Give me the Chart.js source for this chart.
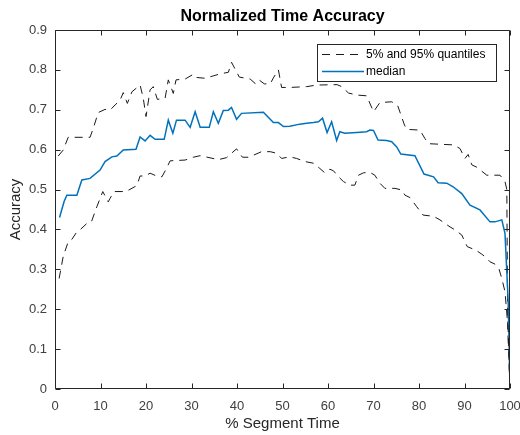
<!DOCTYPE html>
<html>
<head>
<meta charset="utf-8">
<script src="https://cdn.jsdelivr.net/npm/chart.js@4.4.1/dist/chart.umd.min.js"></script>
<style>
  body { margin: 0; background: #fff; }
  canvas { display: block; }
</style>
</head>
<body>
<canvas id="myChart" width="520" height="435"></canvas>
<script>
"use strict";

// chart data
const medianX = [1, 2, 2.6, 4.8, 5.9, 7.7, 9.9, 11, 12.5, 13.6, 15, 17.8, 18.7, 19.8, 20.9, 22, 24, 24.9, 25.9, 26.7, 28.6, 29.7, 30.8, 31.9, 33.9, 34.8, 35.9, 37, 38.1, 38.8, 39.9, 41, 45.8, 48, 49.1, 50.2, 51.6, 53.8, 55.3, 56.8, 57.9, 58.8, 59.8, 60.8, 61.9, 62.6, 63.7, 66.3, 68.5, 69.2, 70, 71, 72.9, 74, 75.1, 76, 79.1, 81.1, 83.2, 84.2, 86.1, 87.5, 89.4, 91.2, 93.4, 95.6, 96.7, 98.2, 98.9, 99.6, 100];
const medianY = [0.43, 0.47, 0.486, 0.486, 0.524, 0.528, 0.549, 0.57, 0.582, 0.584, 0.599, 0.601, 0.632, 0.622, 0.636, 0.626, 0.626, 0.674, 0.641, 0.674, 0.674, 0.656, 0.695, 0.656, 0.656, 0.695, 0.666, 0.698, 0.699, 0.706, 0.676, 0.691, 0.694, 0.668, 0.668, 0.658, 0.659, 0.664, 0.666, 0.668, 0.670, 0.679, 0.643, 0.670, 0.623, 0.645, 0.641, 0.643, 0.645, 0.649, 0.648, 0.624, 0.623, 0.62, 0.607, 0.589, 0.585, 0.539, 0.532, 0.517, 0.516, 0.507, 0.49, 0.461, 0.449, 0.419, 0.419, 0.424, 0.39, 0.22, 0];

const upperX = [0.7, 1.8, 2.9, 7.7, 8.4, 9.5, 11, 12.1, 13.2, 14.3, 15, 15.9, 16.9, 18.7, 19.4, 20, 20.9, 21.6, 22.5, 24.2, 24.9, 26, 26.6, 28.6, 30.4, 31.1, 33, 34.8, 36.3, 38.1, 38.8, 40.5, 42.9, 44, 44.7, 46, 47.3, 48.1, 49.1, 49.8, 51.6, 55.3, 57.5, 62, 63, 64.5, 66.3, 68.5, 70, 71.4, 74, 75.3, 76.8, 77.3, 80.2, 81.3, 82.1, 87.5, 89, 90.1, 90.8, 91.6, 92.7, 94.9, 96.3, 97.8, 98.9, 99.3, 99.5, 100];
const upperY = [0.584, 0.599, 0.631, 0.631, 0.653, 0.693, 0.701, 0.699, 0.712, 0.724, 0.743, 0.716, 0.745, 0.762, 0.729, 0.683, 0.75, 0.758, 0.726, 0.729, 0.775, 0.741, 0.775, 0.777, 0.789, 0.781, 0.779, 0.785, 0.79, 0.794, 0.819, 0.782, 0.777, 0.766, 0.776, 0.765, 0.765, 0.782, 0.8, 0.756, 0.756, 0.758, 0.762, 0.763, 0.758, 0.742, 0.737, 0.735, 0.695, 0.718, 0.72, 0.711, 0.662, 0.651, 0.649, 0.628, 0.615, 0.612, 0.603, 0.578, 0.588, 0.562, 0.556, 0.536, 0.536, 0.536, 0.52, 0.5, 0.15, 0];

const lowerX = [0.9, 1.8, 2.9, 3.7, 4.8, 5.5, 7, 8, 9.2, 10.5, 11.7, 12.1, 13, 15.6, 18, 18.7, 19.8, 20.9, 22.3, 23.5, 24.5, 25.3, 28.6, 30.4, 31.9, 35.9, 37.7, 39.9, 41.2, 42.5, 43.6, 45.4, 47.3, 48.7, 49.8, 51.6, 53.1, 55, 56.8, 58.2, 59.3, 60.4, 61.2, 62.3, 63.4, 64.8, 65.9, 66.7, 67.8, 69.2, 70.3, 71.4, 72.5, 74.7, 76.2, 76.9, 78, 79.5, 80.9, 83.2, 84.6, 86.6, 87.9, 89.4, 90.6, 92.5, 93.8, 94.5, 95.6, 96.7, 97.6, 98.2, 98.9, 99.6, 100];
const lowerY = [0.277, 0.332, 0.369, 0.375, 0.394, 0.399, 0.415, 0.419, 0.457, 0.495, 0.469, 0.478, 0.495, 0.495, 0.51, 0.534, 0.534, 0.541, 0.534, 0.532, 0.553, 0.572, 0.574, 0.581, 0.585, 0.575, 0.58, 0.602, 0.581, 0.581, 0.586, 0.595, 0.595, 0.591, 0.578, 0.582, 0.578, 0.570, 0.566, 0.553, 0.542, 0.551, 0.547, 0.532, 0.52, 0.511, 0.511, 0.536, 0.542, 0.543, 0.536, 0.516, 0.503, 0.503, 0.499, 0.486, 0.48, 0.457, 0.436, 0.433, 0.424, 0.408, 0.399, 0.386, 0.357, 0.348, 0.338, 0.332, 0.319, 0.313, 0.3, 0.277, 0.244, 0.148, 0];

const xTicks = [0, 10, 20, 30, 40, 50, 60, 70, 80, 90, 100];
const yTicks = [0, 0.1, 0.2, 0.3, 0.4, 0.5, 0.6, 0.7, 0.8, 0.9];

const titleText = 'Normalized Time Accuracy';
const xTitle = '% Segment Time';
const yTitle = 'Accuracy';

const FONT = "'Liberation Sans', Arial, sans-serif";
const AXIS = '#262626';
const BLUE = '#0072BD';

function pts(xs, ys) {
    return xs.map((x, i) => ({ x: x, y: ys[i] }));
}

// box round the axes, inward ticks, title and legend (MATLAB look)
const matlabBox = {
    id: 'matlabBox',
    afterDatasetsDraw(chart) {
        const ctx = chart.ctx;
        const a = chart.chartArea;
        const sx = chart.scales.x, sy = chart.scales.y;
        const L = Math.round(a.left) + 0.5, R = Math.round(a.right) - 0.5;
        const T = Math.round(a.top) + 0.5, B = Math.round(a.bottom) - 0.5;
        ctx.save();
        ctx.strokeStyle = AXIS;
        ctx.lineWidth = 1;
        ctx.beginPath();
        ctx.rect(L, T, R - L, B - T);
        const tl = 5;
        xTicks.forEach(v => {
            const px = Math.round(sx.getPixelForValue(v)) + 0.5;
            ctx.moveTo(px, B); ctx.lineTo(px, B - tl);
            ctx.moveTo(px, T); ctx.lineTo(px, T + tl);
        });
        yTicks.forEach(v => {
            const py = Math.round(sy.getPixelForValue(v)) + 0.5;
            ctx.moveTo(L, py); ctx.lineTo(L + tl, py);
            ctx.moveTo(R, py); ctx.lineTo(R - tl, py);
        });
        ctx.stroke();

        // title
        ctx.fillStyle = '#000';
        ctx.font = 'bold 16px ' + FONT;
        ctx.textAlign = 'center';
        ctx.textBaseline = 'middle';
        ctx.fillText(titleText, (a.left + a.right) / 2, 17);

        // legend
        const bx = 317.5, by = 44.5, bw = 179, bh = 37;
        ctx.fillStyle = '#fff';
        ctx.fillRect(bx, by, bw, bh);
        ctx.strokeRect(bx, by, bw, bh);
        const entries = [chart.data.datasets[0], chart.data.datasets[1]];
        entries.forEach((ds, i) => {
            const ly = 54.5 + i * 17;
            ctx.beginPath();
            ctx.strokeStyle = ds.borderColor;
            ctx.lineWidth = ds.borderWidth;
            ctx.setLineDash(ds.borderDash || []);
            ctx.moveTo(322, ly); ctx.lineTo(364, ly);
            ctx.stroke();
            ctx.setLineDash([]);
            ctx.fillStyle = '#000';
            ctx.font = '12px ' + FONT;
            ctx.textAlign = 'left';
            ctx.fillText(ds.label, 366, ly);
        });
        ctx.restore();
    }
};

const ctx = document.getElementById('myChart').getContext('2d');
const chart = new Chart(ctx, {
    type: 'line',
    data: {
        datasets: [
            {
                label: '5% and 95% quantiles',
                data: pts(lowerX, lowerY),
                borderColor: '#1a1a1a',
                borderWidth: 1,
                borderDash: [8, 6],
                pointRadius: 0,
                tension: 0
            },
            {
                label: 'median',
                data: pts(medianX, medianY),
                borderColor: BLUE,
                borderWidth: 1.5,
                pointRadius: 0,
                tension: 0
            },
            {
                label: '95% quantile',
                data: pts(upperX, upperY),
                borderColor: '#1a1a1a',
                borderWidth: 1,
                borderDash: [8, 6],
                pointRadius: 0,
                tension: 0
            }
        ]
    },
    options: {
        responsive: false,
        animation: false,
        layout: { padding: { top: 30, right: 10, left: 0, bottom: 0 } },
        plugins: {
            legend: { display: false },
            title: { display: false },
            tooltip: { enabled: false }
        },
        scales: {
            x: {
                type: 'linear',
                min: 0,
                max: 100,
                afterFit: s => { s.height = 46; s.paddingLeft = 0; s.paddingRight = 0; },
                afterBuildTicks: s => { s.ticks = xTicks.map(v => ({ value: v })); },
                grid: { display: false, drawTicks: false, tickLength: 0 },
                border: { display: false },
                ticks: {
                    color: '#404040',
                    font: { family: FONT, size: 13 },
                    padding: 10,
                    maxRotation: 0
                },
                title: {
                    display: true,
                    text: xTitle,
                    color: AXIS,
                    font: { family: FONT, size: 15 },
                    padding: { top: 0, bottom: 2 }
                }
            },
            y: {
                min: 0,
                max: 0.9,
                afterFit: s => { s.width = 55; s.paddingTop = 0; s.paddingBottom = 0; },
                afterBuildTicks: s => { s.ticks = yTicks.map(v => ({ value: v })); },
                grid: { display: false, drawTicks: false, tickLength: 0 },
                border: { display: false },
                ticks: {
                    color: '#404040',
                    font: { family: FONT, size: 13 },
                    padding: 8,
                    callback: v => String(+v.toFixed(1))
                },
                title: {
                    display: true,
                    text: yTitle,
                    color: AXIS,
                    font: { family: FONT, size: 15 },
                    padding: { top: 7, bottom: 0 }
                }
            }
        }
    },
    plugins: [matlabBox]
});
</script>
</body>
</html>
